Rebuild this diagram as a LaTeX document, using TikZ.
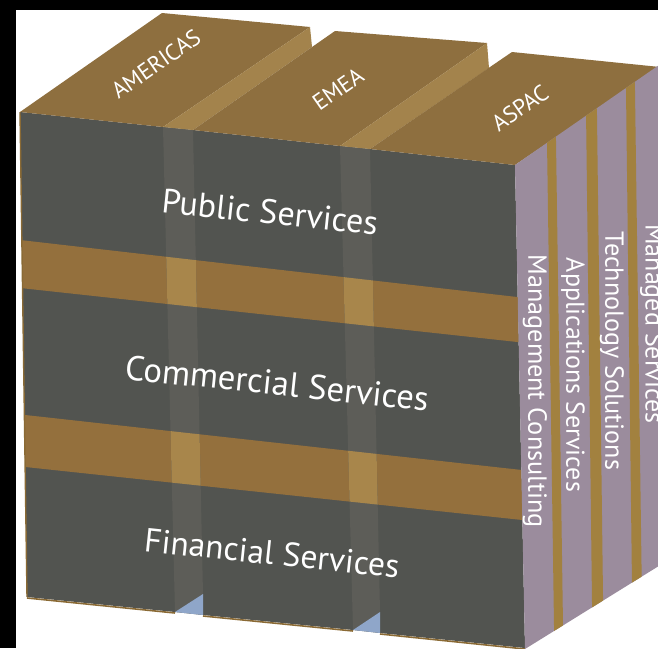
\documentclass[tikz,border=0pt]{standalone}
\usepackage{fontspec}
\usepackage{graphicx}
\setmainfont{PT Sans}
\begin{document}
\begin{tikzpicture}[x=1pt,y=-1pt]
\definecolor{frontgray}{HTML}{525450}
\definecolor{stripgray}{HTML}{5D5D58}
\definecolor{topbrown}{HTML}{8E6F3F}
\definecolor{bandbrown}{HTML}{94703D}
\definecolor{lighttop}{HTML}{A3834C}
\definecolor{lightband}{HTML}{A8864B}
\definecolor{sidepurple}{HTML}{9B8C9D}
\definecolor{stripebrown}{HTML}{A2813F}
\definecolor{floorblue}{HTML}{8FA6C9}
\definecolor{edgebrown}{HTML}{8A6A35}
\tikzset{
  frontlbl/.style={text=white, inner sep=0pt, rotate=-6},
  toplbl/.style={text=white, inner sep=0pt, rotate=35, font=\fontsize{23}{23}\selectfont},
  sidelbl/.style={text=white, inner sep=0pt, rotate=-90},
}
\useasboundingbox (0,0) rectangle (658,648);
\clip (0,0) rectangle (658,648);
\fill[white] (0,0) rectangle (658,648);

% ---------- front face ----------
\fill[frontgray] (20,112) -- (163,127) -- (193,130) -- (340,146) -- (370,149) -- (515,165)
  -- (525,648) -- (380,633) -- (353,630) -- (203,615) -- (175,612) -- (27,597) -- cycle;
\begin{scope}
  \clip (20,112) -- (163,127) -- (193,130) -- (340,146) -- (370,149) -- (515,165)
    -- (525,648) -- (380,633) -- (353,630) -- (203,615) -- (175,612) -- (27,597) -- cycle;
  \fill[bandbrown] (0,237.7) -- (660,313.4) -- (660,357.5) -- (0,285.8) -- cycle;
  \fill[bandbrown] (0,412.2) -- (660,485.3) -- (660,534.7) -- (0,464.3) -- cycle;
\end{scope}
% gap strips
\begin{scope}
  \clip (163,127) -- (193,130) -- (203,594) -- (175,612) -- cycle;
  \fill[stripgray] (150,100) rectangle (210,640);
  \fill[lightband] (0,237.7) -- (660,313.4) -- (660,357.5) -- (0,285.8) -- cycle;
  \fill[lightband] (0,412.2) -- (660,485.3) -- (660,534.7) -- (0,464.3) -- cycle;
\end{scope}
\begin{scope}
  \clip (340,146) -- (370,149) -- (380,612) -- (353,630) -- cycle;
  \fill[stripgray] (330,100) rectangle (390,640);
  \fill[lightband] (0,237.7) -- (660,313.4) -- (660,357.5) -- (0,285.8) -- cycle;
  \fill[lightband] (0,412.2) -- (660,485.3) -- (660,534.7) -- (0,464.3) -- cycle;
\end{scope}
\fill[floorblue] (175,612) -- (203,594) -- (203,615) -- cycle;
\fill[floorblue] (353,630) -- (380,612) -- (380,633) -- cycle;
% edges
\draw[edgebrown, line width=1.4pt] (20,112) -- (27,597);
\draw[edgebrown, line width=1.6pt] (27,598) -- (175,613);
\draw[edgebrown, line width=1.6pt] (203,616) -- (353,631);
\draw[edgebrown, line width=1.6pt] (380,634) -- (525,649);

% ---------- top faces ----------
\fill[topbrown] (20,112) -- (162,13) -- (310,27) -- (163,127) -- cycle;
\fill[lighttop] (163,127) -- (310,27) -- (312,47) -- (193,130) -- cycle;
\fill[topbrown] (193,130) -- (335,31) -- (487,43) -- (340,146) -- cycle;
\fill[lighttop] (340,146) -- (487,43) -- (489,68) -- (370,149) -- cycle;
\fill[topbrown] (370,149) -- (512,52) -- (660,67) -- (515,165) -- cycle;

% ---------- right side face ----------
\fill[sidepurple] (515,165) -- (662,63) -- (662,564) -- (525,649) -- cycle;
\begin{scope}
  \clip (515,165) -- (662,63) -- (662,564) -- (525,649) -- cycle;
  \fill[stripebrown] (546.4,100) -- (555.4,100) -- (563.5,660) -- (554.5,660) -- cycle;
  \fill[stripebrown] (585.4,60) -- (596.3,60) -- (603.8,660) -- (592.7,660) -- cycle;
  \fill[stripebrown] (625.4,40) -- (634.3,40) -- (642.8,660) -- (632.9,660) -- cycle;
\end{scope}

% black frame
\fill[black] (0,0) rectangle (658,10);
\fill[black] (0,0) rectangle (16,648);

% ---------- labels ----------
\node[toplbl] (am) at (156,64) {AMERICAS};
\node[toplbl] (em) at (338,89) {EMEA};
\node[toplbl] (as) at (520,108) {ASPAC};

\node[frontlbl] (ps) at (270,212) {\resizebox{217pt}{!}{Public Services}};
\node[frontlbl] (cs) at (277,383) {\resizebox{305pt}{!}{Commercial Services}};
\node[frontlbl] (fs) at (272,553) {\resizebox{256pt}{!}{Financial Services}};

\node[sidelbl] (mc) at (535,391) {\resizebox{273pt}{!}{Management Consulting}};
\node[sidelbl] (ap) at (573,375) {\resizebox{234pt}{!}{Applications Services}};
\node[sidelbl] (ts) at (612,351) {\resizebox{238pt}{!}{Technology Solutions}};
\node[sidelbl, font=\fontsize{26}{26}\selectfont] (ms) at (652,324) {Managed Services};
\end{tikzpicture}
\end{document}
